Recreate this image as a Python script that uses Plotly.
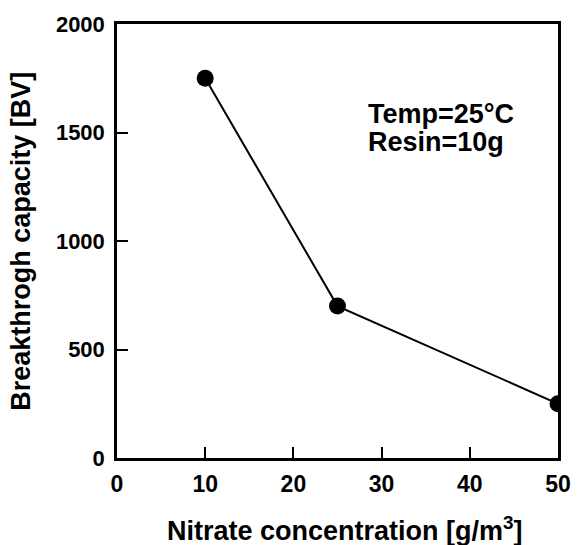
import plotly.graph_objects as go

concentration = [10, 25, 50]
capacity = [1750, 700, 250]
x_ticks = [0, 10, 20, 30, 40, 50]
y_ticks = [0, 500, 1000, 1500, 2000]

FONT = "Arial, Liberation Sans, sans-serif"

fig = go.Figure()
fig.add_trace(go.Scatter(
    x=concentration, y=capacity, mode="lines+markers",
    line=dict(color="black", width=2),
    marker=dict(color="black", size=17),
    showlegend=False,
))

axis_common = dict(
    showline=True, linecolor="black", linewidth=2.5, mirror=True,
    ticks="inside", ticklen=11, tickwidth=2, tickcolor="black",
    showgrid=False, zeroline=False,
)

fig.update_xaxes(range=[0, 50], tickvals=x_ticks, **axis_common, ticklabelstandoff=4,
                 tickfont=dict(family=FONT, size=23, color="black", weight="bold"))
fig.update_yaxes(range=[0, 2000], tickvals=y_ticks, **axis_common, ticklabelstandoff=5,
                 tickfont=dict(family=FONT, size=22, color="black", weight="bold"))

title_font = dict(family=FONT, size=27, color="black")
# x-axis title
fig.add_annotation(
    x=0.517, y=-0.2084, xref="paper", yref="paper", xanchor="center", yanchor="bottom",
    text="<b>Nitrate concentration [g/m<sup>3</sup>]</b>", showarrow=False,
    font=title_font,
)
# y-axis title
fig.add_annotation(
    x=-0.218, y=0.5, xref="paper", yref="paper", xanchor="center", yanchor="middle",
    text="<b>Breakthrogh capacity [BV]</b>", showarrow=False, textangle=-90,
    font=title_font,
)
# conditions
fig.add_annotation(
    x=0.5657, y=0.753, xref="paper", yref="paper", xanchor="left", yanchor="bottom",
    text="<b>Temp=25°C</b>", showarrow=False, font=title_font,
)
fig.add_annotation(
    x=0.5657, y=0.689, xref="paper", yref="paper", xanchor="left", yanchor="bottom",
    text="<b>Resin=10g</b>", showarrow=False, font=title_font,
)

fig.update_layout(
    width=583, height=545,
    margin=dict(l=117, r=17, t=18, b=87),
    plot_bgcolor="white", paper_bgcolor="white",
)

fig.write_html("out.html")
